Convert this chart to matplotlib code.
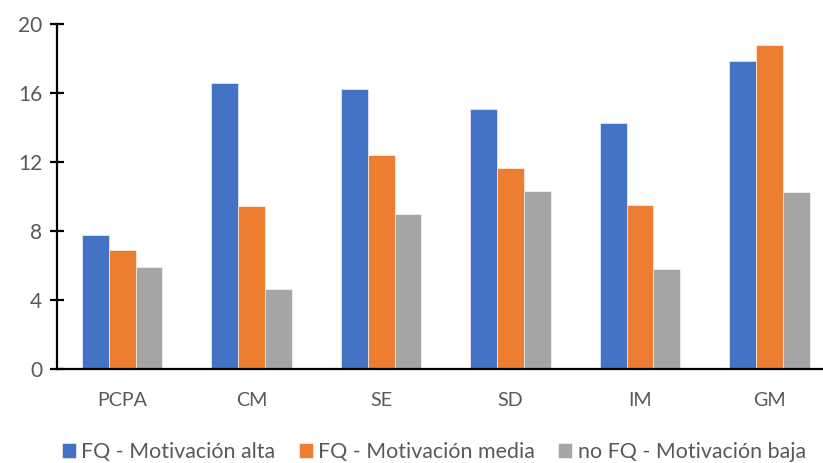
import matplotlib.pyplot as plt
import numpy as np

categories = ['PCPA', 'CM', 'SE', 'SD', 'IM', 'GM']
series_names = ['FQ - Motivación alta', 'FQ - Motivación media', 'no FQ - Motivación baja']
alta = [7.8, 16.6, 16.25, 15.07, 14.26, 17.86]
media = [6.92, 9.45, 12.43, 11.65, 9.55, 18.8]
baja = [5.91, 4.68, 9.02, 10.32, 5.8, 10.28]
yticks = [0, 4, 8, 12, 16, 20]

colors = ['#4472C4', '#ED7D31', '#A5A5A5']
text_color = '#595959'

plt.rcParams['font.family'] = ['Lato', 'DejaVu Sans']

fig = plt.figure(figsize=(8.23, 4.63), dpi=100)
ax = fig.add_axes([57.3 / 823, 1 - 369.3 / 463, 1 - 57.3 / 823, 345.0 / 463])

x = np.arange(len(categories))
width = 0.208
for i, vals in enumerate([alta, media, baja]):
    ax.bar(x + (i - 1) * width, vals, width, color=colors[i], label=series_names[i],
           edgecolor='white', linewidth=0.4)

ax.set_xlim(-0.5, 5.413)
ax.set_ylim(0, 20)
ax.set_yticks(yticks)
ax.set_xticks(x)
ax.set_xticklabels(categories)

for s in ['top', 'right']:
    ax.spines[s].set_visible(False)
for s in ['left', 'bottom']:
    ax.spines[s].set_linewidth(1.6)
    ax.spines[s].set_color('black')
ax.spines['bottom'].set_zorder(5)

ax.tick_params(axis='y', direction='inout', length=10.6, width=1.6, colors='black',
               labelcolor=text_color, labelsize=15, pad=5.5)
ax.tick_params(axis='x', length=0, labelcolor=text_color, labelsize=14.2, pad=16)

fig.legend(loc='center', bbox_to_anchor=(0.527, 1 - 452 / 463), ncol=3, frameon=False,
           fontsize=15.4, labelcolor=text_color, handlelength=0.66, handleheight=0.66,
           handletextpad=0.24, columnspacing=1.1, borderpad=0)

fig.savefig('out.png', dpi=100)
